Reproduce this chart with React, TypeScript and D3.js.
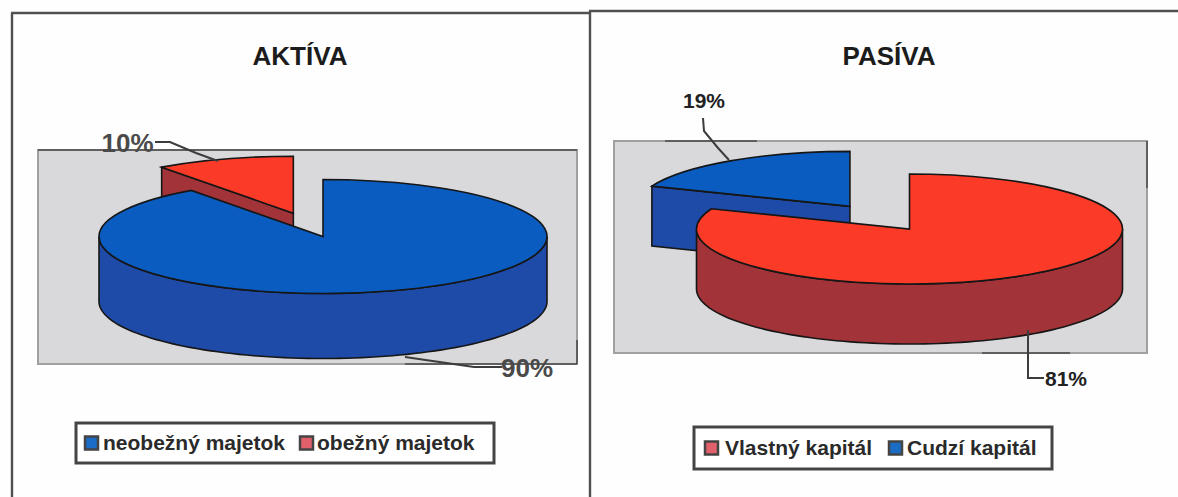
import * as d3 from "d3";
import { useRef, useEffect } from "react";

// values
const assetLabels = ["neobežný majetok", "obežný majetok"];
const assetValues = [90, 10];
const liabilityLabels = ["Vlastný kapitál", "Cudzí kapitál"];
const liabilityValues = [81, 19];

const BLUE = { top: "#0a5cc0", side: "#1f4ba8", key: "#1a6cc4" };
const RED = { top: "#fb3b28", side: "#a23338", key: "#e2606c" };
const INK = "#161616";

const panels = [
  {
    title: "AKTÍVA", titleX: 300, titleY: 65, labels: assetLabels, values: assetValues, colors: [BLUE, RED],
    plot: [38, 150, 577, 364], cx: 323, cy: 236.5, rx: 224, ry: 57, depth: 65, explode: 96,
    textColor: "#4a4a4a", noteSize: 26,
    notes: [
      { x: 127.5, y: 152, leader: [[155, 142], [170, 142], [196, 153], [218, 161]] },
      { x: 527, y: 377, leader: [[405, 357], [474, 367], [502, 367]] },
    ],
    // darker stretches of the scanned plot edge
    edges: [[38, 150, 577, 150], [405, 364, 577, 364], [577, 340, 577, 364]],
    legend: [76, 423, 494, 463],
    legendX: [[84, 103], [299, 317]],
  },
  {
    title: "PASÍVA", titleX: 889, titleY: 65, labels: liabilityLabels, values: liabilityValues, colors: [RED, BLUE],
    plot: [614, 141, 1147, 353], cx: 909.5, cy: 229, ry: 55, rx: 213, depth: 60, explode: 106,
    textColor: "#222", noteSize: 21,
    notes: [
      { x: 704, y: 108, leader: [[703, 118], [704, 131], [718, 148], [729, 160]] },
      { x: 1066, y: 386, leader: [[1028, 330], [1028, 378], [1044, 378]] },
    ],
    edges: [[665, 141, 757, 141], [982, 353, 1070, 353], [1147, 141, 1147, 188]],
    legend: [694, 427, 1052, 469],
    legendX: [[704, 725], [888, 907]],
  },
];

export default function App() {
  const svgRef = useRef(null);

  useEffect(() => {
    const svg = d3.select(svgRef.current);
    svg.selectAll("*").remove();
    svg.append("rect").attr("width", 1178).attr("height", 497).attr("fill", "#fefefe");

    // scanned page frame
    const frame = [[12, 13, 12, 497], [11, 13, 590, 13], [589, 11, 1178, 11], [590, 11, 590, 497]];
    frame.forEach(f => svg.append("line").attr("x1", f[0]).attr("y1", f[1]).attr("x2", f[2]).attr("y2", f[3]).attr("stroke", "#505050").attr("stroke-width", 2.4));

    const line = d3.line();

    panels.forEach(p => {
      const g = svg.append("g");

      g.append("text").attr("x", p.titleX).attr("y", p.titleY).attr("text-anchor", "middle")
        .attr("font-family", "Liberation Sans").attr("font-weight", 700).attr("font-size", 26).attr("fill", "#1c1c1c").text(p.title);

      g.append("rect").attr("x", p.plot[0]).attr("y", p.plot[1]).attr("width", p.plot[2] - p.plot[0]).attr("height", p.plot[3] - p.plot[1])
        .attr("fill", "#d9d9db").attr("stroke", "#a0a0a0").attr("stroke-width", 2);
      p.edges.forEach(e => g.append("line").attr("x1", e[0]).attr("y1", e[1]).attr("x2", e[2]).attr("y2", e[3])
        .attr("stroke", "#4a4a4a").attr("stroke-width", 1.5));

      const arcs = d3.pie().sort(null)(p.values);
      const k = p.ry / p.rx;
      const arc = d3.arc().innerRadius(0).outerRadius(p.rx);
      const polar = (a, r, ox = 0, oy = 0) => [p.cx + ox + r * Math.sin(a), p.cy + oy - r * k * Math.cos(a)];

      // the small slice is pulled out and sits behind, so draw it first
      const order = arcs.map((a, i) => i).sort((a, b) => p.values[a] - p.values[b]);
      order.forEach(i => {
        const a = arcs[i];
        const isOut = p.values[i] < 50;
        const mid = (a.startAngle + a.endAngle) / 2;
        const ox = isOut ? p.explode * Math.sin(mid) : 0;
        const oy = isOut ? -p.explode * k * Math.cos(mid) : 0;
        const c = p.colors[i];

        if (isOut) {
          // cut face along the slice's first edge
          const tip = polar(a.startAngle, p.rx, ox, oy);
          const apex = polar(0, 0, ox, oy);
          g.append("path").attr("d", line([tip, apex, [apex[0], apex[1] + p.depth], [tip[0], tip[1] + p.depth]]) + "Z")
            .attr("fill", c.side).attr("stroke", INK).attr("stroke-width", 1.6);
        } else {
          // front wall of the big slice
          const ts = d3.range(Math.PI / 2, Math.PI * 1.5 + 0.001, Math.PI / 90);
          const upper = ts.map(t => polar(t, p.rx));
          const lower = ts.map(t => polar(t, p.rx, 0, p.depth)).reverse();
          g.append("path").attr("d", line([...upper, ...lower]) + "Z")
            .attr("fill", c.side).attr("stroke", INK).attr("stroke-width", 1.6);
        }

        g.append("path").attr("d", arc(a))
          .attr("transform", `translate(${p.cx + ox},${p.cy + oy}) scale(1,${k})`)
          .attr("fill", c.top).attr("stroke", INK).attr("stroke-width", 1.6).attr("vector-effect", "non-scaling-stroke");
      });

      // percent labels with leaders, small slice label first
      const shares = [Math.min(...p.values), Math.max(...p.values)];
      shares.forEach((v, i) => {
        const n = p.notes[i];
        g.append("path").attr("d", line(n.leader)).attr("fill", "none").attr("stroke", "#3c3c3c").attr("stroke-width", 2);
        g.append("text").attr("x", n.x).attr("y", n.y).attr("text-anchor", "middle")
          .attr("font-family", "Liberation Sans").attr("font-weight", 700).attr("font-size", p.noteSize)
          .attr("fill", p.textColor).text(d3.format("d")(v) + "%");
      });

      // legend
      const [x0, y0, x1, y1] = p.legend;
      g.append("rect").attr("x", x0).attr("y", y0).attr("width", x1 - x0).attr("height", y1 - y0)
        .attr("fill", "#fff").attr("stroke", "#444").attr("stroke-width", 3);
      p.labels.forEach((l, i) => {
        const [sx, tx] = p.legendX[i];
        const midY = (y0 + y1) / 2;
        g.append("rect").attr("x", sx + 1).attr("y", midY - 6.5).attr("width", 13).attr("height", 13)
          .attr("fill", p.colors[i].key).attr("stroke", "#444").attr("stroke-width", 2.5);
        g.append("text").attr("x", tx).attr("y", midY + 7)
          .attr("font-family", "Liberation Sans").attr("font-weight", 700).attr("font-size", 21).attr("fill", "#2a2a2a").text(l);
      });
    });
  }, []);

  return (
    <svg ref={svgRef} width={1178} height={497} style={{ position: "absolute", left: 0, top: 0 }} />
  );
}
